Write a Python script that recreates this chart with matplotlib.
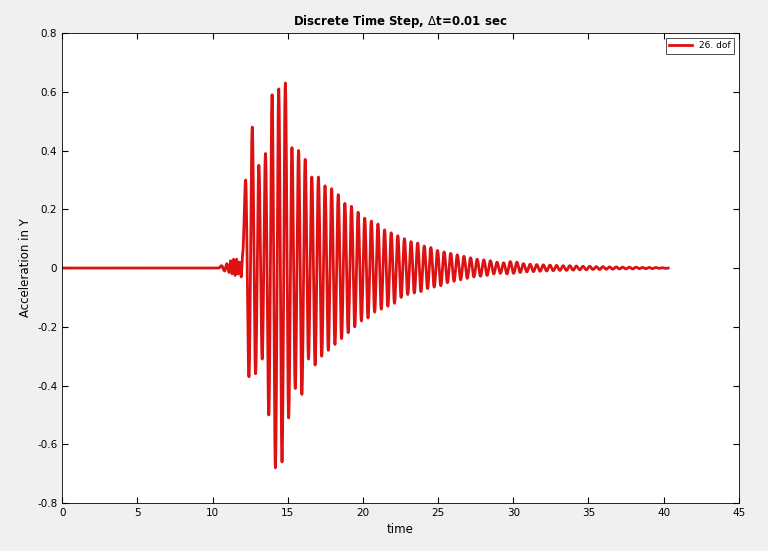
import numpy as np
import matplotlib
matplotlib.use("Agg")
import matplotlib.pyplot as plt

# pre-event small noise extrema (time, value)
noise_t = [10.4, 10.6, 10.8, 10.95, 11.1, 11.2, 11.3, 11.4, 11.5, 11.6, 11.7, 11.8, 11.9, 12.0]
noise_v = [0.0, 0.008, -0.01, 0.015, -0.015, 0.025, -0.02, 0.03, -0.025, 0.03, -0.02, 0.02, -0.03, 0.05]

# positive peaks and negative troughs per cycle
peak_start = 12.2
period = 0.44
pos_peaks = [0.30, 0.48, 0.35, 0.39, 0.59, 0.61, 0.63, 0.41, 0.40, 0.37, 0.31, 0.31,
             0.28, 0.27, 0.25, 0.22, 0.21, 0.19, 0.17, 0.16, 0.15, 0.13, 0.12, 0.11,
             0.10, 0.09, 0.085, 0.075, 0.07, 0.06, 0.055, 0.05, 0.045, 0.04, 0.035,
             0.03, 0.028, 0.025, 0.02, 0.018, 0.022, 0.02, 0.015, 0.013, 0.012, 0.011,
             0.01, 0.009, 0.008, 0.008, 0.007, 0.006, 0.006, 0.005, 0.005, 0.004,
             0.004, 0.003, 0.003, 0.003, 0.002, 0.002, 0.002, 0.001]
neg_peaks = [-0.37, -0.36, -0.31, -0.50, -0.68, -0.66, -0.51, -0.41, -0.43, -0.31, -0.33,
             -0.30, -0.28, -0.26, -0.24, -0.22, -0.20, -0.18, -0.17, -0.15, -0.14, -0.13,
             -0.12, -0.10, -0.09, -0.085, -0.08, -0.07, -0.065, -0.06, -0.05, -0.045,
             -0.04, -0.035, -0.03, -0.028, -0.025, -0.02, -0.018, -0.02, -0.018, -0.015,
             -0.013, -0.012, -0.011, -0.01, -0.009, -0.008, -0.008, -0.007, -0.006,
             -0.006, -0.005, -0.005, -0.004, -0.004, -0.003, -0.003, -0.003, -0.002,
             -0.002, -0.002, -0.001, -0.001]

t_start, t_end = 0.0, 40.3

# build extrema sequence
ext_t = [t_start] + noise_t
ext_v = [0.0] + noise_v
for i, (p, n) in enumerate(zip(pos_peaks, neg_peaks)):
    tp = peak_start + i * period
    ext_t += [tp, tp + period / 2]
    ext_v += [p, n]
ext_t.append(t_end)
ext_v.append(0.0)

# smooth (cosine) rendering between consecutive extrema
tt, yy = [], []
for k in range(len(ext_t) - 1):
    s = np.linspace(0, 1, 12, endpoint=False)
    w = (1 - np.cos(np.pi * s)) / 2
    tt.append(ext_t[k] + (ext_t[k + 1] - ext_t[k]) * s)
    yy.append(ext_v[k] + (ext_v[k + 1] - ext_v[k]) * w)
tt.append([ext_t[-1]])
yy.append([ext_v[-1]])
tt = np.concatenate(tt)
yy = np.concatenate(yy)

fig = plt.figure(figsize=(7.68, 5.51), dpi=100, facecolor="#f0f0f0")
ax = fig.add_axes([0.081, 0.087, 0.881, 0.853])
ax.plot(tt, yy, color="#dd1111", lw=2, label="26. dof")
ax.set_xlim(0, 45)
ax.set_ylim(-0.8, 0.8)
ax.set_xticks(np.arange(0, 46, 5))
ax.set_yticks(np.arange(-0.8, 0.81, 0.2))
ax.set_yticklabels(["-0.8", "-0.6", "-0.4", "-0.2", "0", "0.2", "0.4", "0.6", "0.8"])
ax.tick_params(direction="in", top=True, right=True, labelsize=7.5, length=4)
ax.set_xlabel("time", fontsize=8.5)
ax.set_ylabel("Acceleration in Y", fontsize=8.5)
ax.set_title("Discrete Time Step, $\\Delta$t=0.01 sec", fontsize=8.5, fontweight="bold")
leg = ax.legend(loc="upper right", fontsize=6.5, fancybox=False, edgecolor="black",
                handlelength=2.5)
leg.get_frame().set_linewidth(0.6)
for s in ax.spines.values():
    s.set_linewidth(0.6)

fig.savefig("out.png", facecolor=fig.get_facecolor())
